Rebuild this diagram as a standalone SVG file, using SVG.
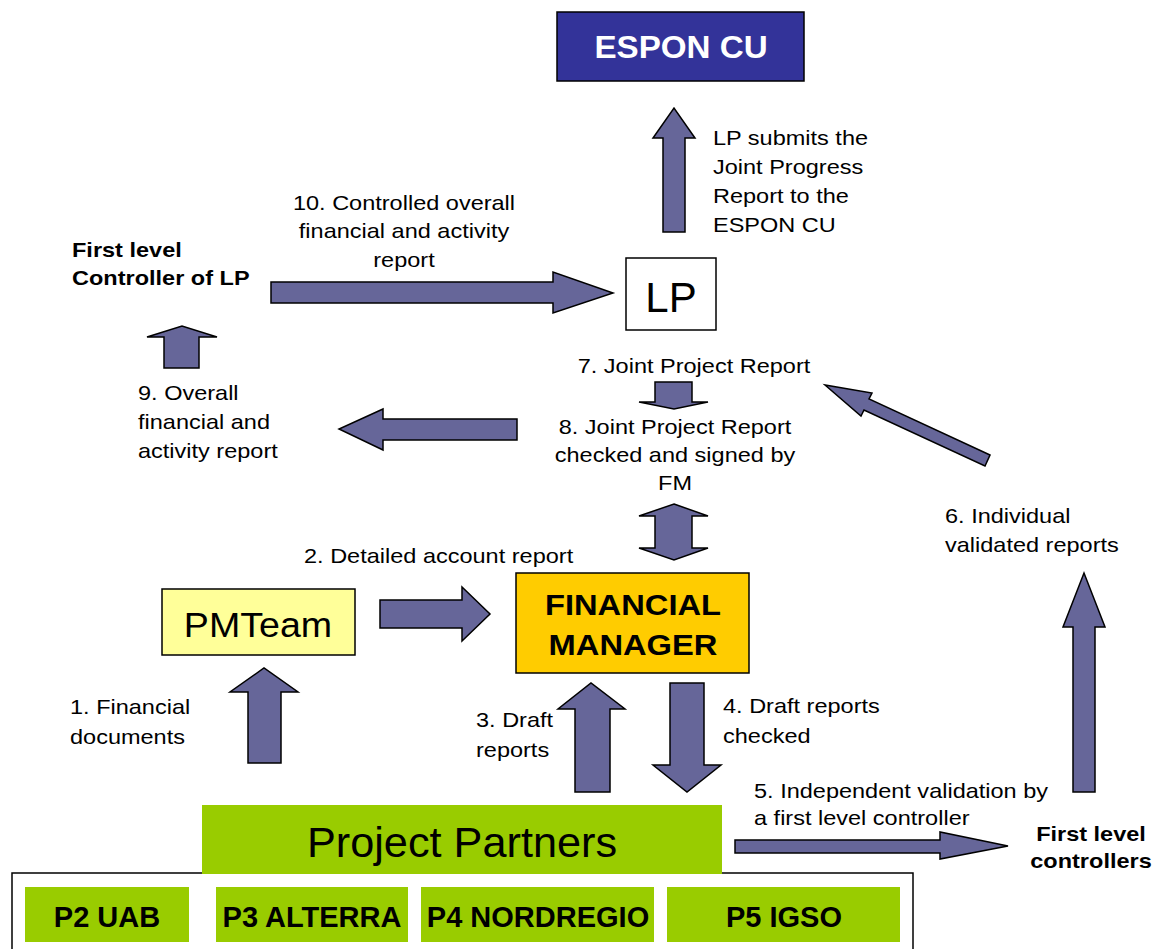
<svg xmlns="http://www.w3.org/2000/svg" width="1166" height="949" viewBox="0 0 1166 949">
<style>
text{font-family:"Liberation Sans",Arial,sans-serif;fill:#000}
.t{font-size:21px}
.b{font-size:21px;font-weight:bold}
.arr{fill:#666699;stroke:#000;stroke-width:1.5;stroke-linejoin:miter}
.box{stroke:#000;stroke-width:1.5}
.pp{font-size:29px;font-weight:bold}
</style>
<rect width="1166" height="949" fill="#fff"/>

<g id="espon-cu">
<rect class="box" x="557" y="12" width="247" height="69" fill="#333399"/>
<text transform="translate(681 58) scale(1.07 1)" text-anchor="middle" style="font-size:31px;font-weight:bold;fill:#fff">ESPON CU</text>
</g>

<g id="lp">
<rect class="box" x="626" y="258" width="90" height="72" fill="#fff"/>
<text x="671" y="312" text-anchor="middle" style="font-size:42px">LP</text>
</g>

<g id="flc-lp">
<text class="b" transform="translate(72 257) scale(1.12 1)"><tspan x="0" y="0">First level</tspan><tspan x="0" y="28">Controller of LP</tspan></text>
</g>

<g id="pmteam">
<rect class="box" x="162" y="589" width="193" height="66" fill="#ffff99"/>
<text transform="translate(258 637) scale(1.09 1)" text-anchor="middle" style="font-size:34.5px">PMTeam</text>
</g>

<g id="financial-manager">
<rect class="box" x="516" y="573" width="233" height="100" fill="#ffcc00"/>
<text transform="translate(633 615) scale(1.09 1)" text-anchor="middle" style="font-size:30px;font-weight:bold"><tspan x="0" y="0">FINANCIAL</tspan><tspan x="0" y="40">MANAGER</tspan></text>
</g>

<g id="partners">
<rect x="12" y="873" width="901" height="100" fill="#fff" stroke="#000" stroke-width="1.5"/>
<rect x="202" y="805" width="520" height="69" fill="#99cc00"/>
<text transform="translate(462 857) scale(1.03 1)" text-anchor="middle" style="font-size:42px">Project Partners</text>
</g>
<g id="p2"><rect x="25" y="887" width="164" height="55" fill="#99cc00"/><text class="pp" x="107" y="927" text-anchor="middle">P2 UAB</text></g>
<g id="p3"><rect x="216" y="887" width="192" height="55" fill="#99cc00"/><text class="pp" x="312" y="927" text-anchor="middle">P3 ALTERRA</text></g>
<g id="p4"><rect x="421" y="887" width="233" height="55" fill="#99cc00"/><text class="pp" x="538" y="927" text-anchor="middle">P4 NORDREGIO</text></g>
<g id="p5"><rect x="667" y="887" width="233" height="55" fill="#99cc00"/><text class="pp" x="784" y="927" text-anchor="middle">P5 IGSO</text></g>

<g id="flc">
<text class="b" transform="translate(1091 841) scale(1.12 1)" text-anchor="middle"><tspan x="0" y="0">First level</tspan><tspan x="0" y="27">controllers</tspan></text>
</g>

<g id="connectors">
<polygon class="arr" points="663,232 663,138 653,138 674,108 695,138 685,138 685,232"/>
<polygon class="arr" points="271,282 553,282 553,272 613,293 553,313 553,303 271,303"/>
<polygon class="arr" points="164,368 164,337 147,337 182,326 217,337 199,337 199,368"/>
<polygon class="arr" points="517,419 383,419 383,409 339,429 383,450 383,440 517,440"/>
<polygon class="arr" points="655,382 692,382 692,402 708,402 674,409 639,402 655,402"/>
<polygon class="arr" points="674,504 708,516 692,516 692,548 708,548 674,560 639,548 655,548 655,516 639,516"/>
<polygon class="arr" points="380,600 462,600 462,587 490,614 462,641 462,628 380,628"/>
<polygon class="arr" points="248,763 248,692 230,692 264,668 298,692 281,692 281,763"/>
<polygon class="arr" points="575,792 575,709 558,709 591,683 625,709 610,709 610,792"/>
<polygon class="arr" points="670,683 704,683 704,765 721,765 687,792 653,765 670,765"/>
<polygon class="arr" points="1073,792 1073,627 1063,627 1084,573 1105,627 1095,627 1095,792"/>
<polygon class="arr" points="735,840 940,840 940,832 1008,846 940,859 940,853 735,853"/>
<polygon class="arr" points="990,455 869,399 872,393 825,385 861,416 864,410 985,466"/>
</g>

<g id="labels">
<text class="t" transform="translate(713 145) scale(1.12 1)"><tspan x="0" y="0">LP submits the</tspan><tspan x="0" y="29">Joint Progress</tspan><tspan x="0" y="58">Report to the</tspan><tspan x="0" y="87">ESPON CU</tspan></text>
<text class="t" transform="translate(404 210) scale(1.12 1)" text-anchor="middle"><tspan x="0" y="0">10. Controlled overall</tspan><tspan x="0" y="28">financial and activity</tspan><tspan x="0" y="57">report</tspan></text>
<text class="t" transform="translate(694 373) scale(1.12 1)" text-anchor="middle">7. Joint Project Report</text>
<text class="t" transform="translate(675 434) scale(1.12 1)" text-anchor="middle"><tspan x="0" y="0">8. Joint Project Report</tspan><tspan x="0" y="28">checked and signed by</tspan><tspan x="0" y="56">FM</tspan></text>
<text class="t" transform="translate(138 400) scale(1.12 1)"><tspan x="0" y="0">9. Overall</tspan><tspan x="0" y="29">financial and</tspan><tspan x="0" y="58">activity report</tspan></text>
<text class="t" transform="translate(304 563) scale(1.12 1)">2. Detailed account report</text>
<text class="t" transform="translate(70 714) scale(1.12 1)"><tspan x="0" y="0">1. Financial</tspan><tspan x="0" y="30">documents</tspan></text>
<text class="t" transform="translate(476 727) scale(1.12 1)"><tspan x="0" y="0">3. Draft</tspan><tspan x="0" y="30">reports</tspan></text>
<text class="t" transform="translate(723 713) scale(1.12 1)"><tspan x="0" y="0">4. Draft reports</tspan><tspan x="0" y="30">checked</tspan></text>
<text class="t" transform="translate(945 523) scale(1.12 1)"><tspan x="0" y="0">6. Individual</tspan><tspan x="0" y="29">validated reports</tspan></text>
<text class="t" transform="translate(754 798) scale(1.12 1)"><tspan x="0" y="0">5. Independent validation by</tspan><tspan x="0" y="27">a first level controller</tspan></text>
</g>
</svg>
